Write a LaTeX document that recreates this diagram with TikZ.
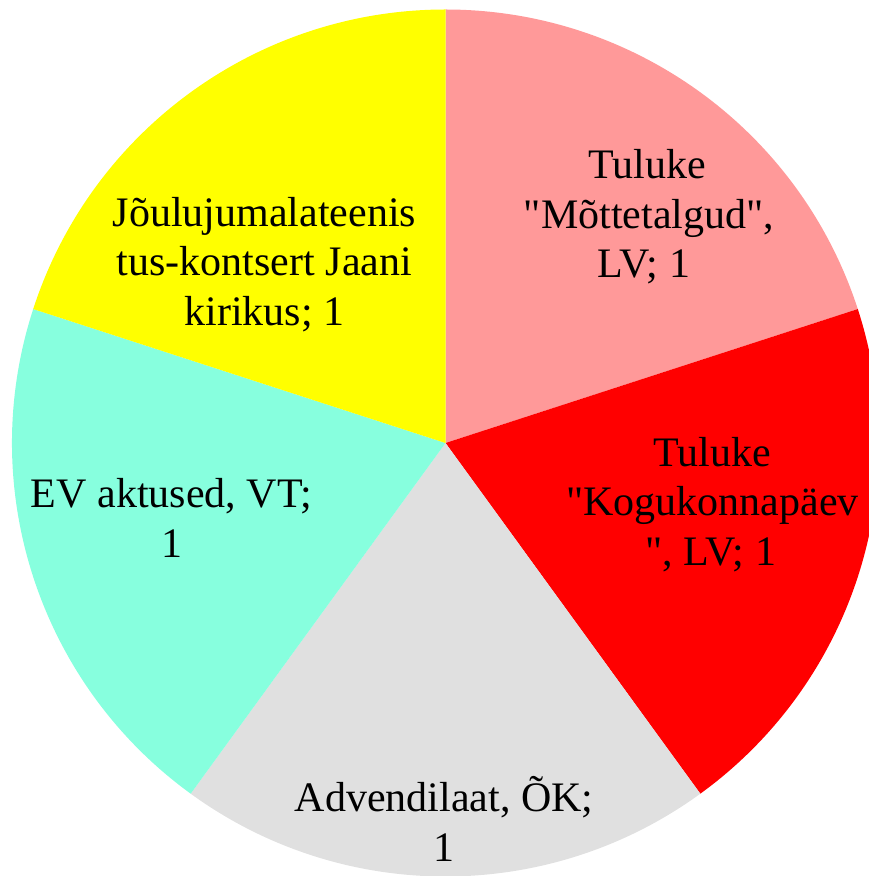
\documentclass[tikz,border=0pt]{standalone}
\usepackage{fontspec}
\newfontfamily\lbfont{Liberation Serif}

\definecolor{rosa}{RGB}{255,153,153}
\definecolor{punane}{RGB}{255,0,0}
\definecolor{hall}{RGB}{224,224,224}
\definecolor{turkiis}{RGB}{135,255,222}
\definecolor{kollane}{RGB}{255,255,0}

\tikzset{
    lbl/.style={anchor=base,inner sep=0pt,font=\lbfont\fontsize{42}{49.5}\selectfont}
}

\begin{document}
\begin{tikzpicture}[x=1pt,y=1pt]

        \useasboundingbox (0,0) rectangle (869,876);
        \clip (0,0) rectangle (869,876);

        \coordinate (c) at (445.5,433);

        % viilud
        \fill[rosa]    (c) -- ++(90:433.5)  arc (90:18:433.5)    -- cycle;
        \fill[punane]  (c) -- ++(18:433.5)  arc (18:-54:433.5)   -- cycle;
        \fill[hall]    (c) -- ++(-54:433.5) arc (-54:-126:433.5) -- cycle;
        \fill[turkiis] (c) -- ++(-126:433.5) arc (-126:-198:433.5) -- cycle;
        \fill[kollane] (c) -- ++(162:433.5) arc (162:90:433.5)   -- cycle;

        \node[lbl] (t1a) at (647,697)   {Tuluke};
        \node[lbl] (t1b) at (649,647.5) {"Mõttetalgud",};
        \node[lbl] (t1c) at (644,598)   {LV; 1};

        \node[lbl] (t2a) at (712,409.5) {Tuluke};
        \node[lbl] (t2b) at (712.5,360) {"Kogukonnapäev};
        \node[lbl] (t2c) at (711,310.5) {", LV; 1};

        \node[lbl] (adv) at (444,64.5)  {Advendilaat, ÕK;};
        \node[lbl] (adv1) at (444,15)   {1};

        \node[lbl] (ev)  at (171.5,368) {EV aktused, VT;};
        \node[lbl] (ev1) at (171.5,318.5) {1};

        \node[lbl] (j1)  at (264.5,649.5) {Jõulujumalateenis};
        \node[lbl] (j2)  at (264.5,600)   {tus-kontsert Jaani};
        \node[lbl] (j3)  at (264.5,550.5) {kirikus; 1};
    \end{tikzpicture}
\end{document}
